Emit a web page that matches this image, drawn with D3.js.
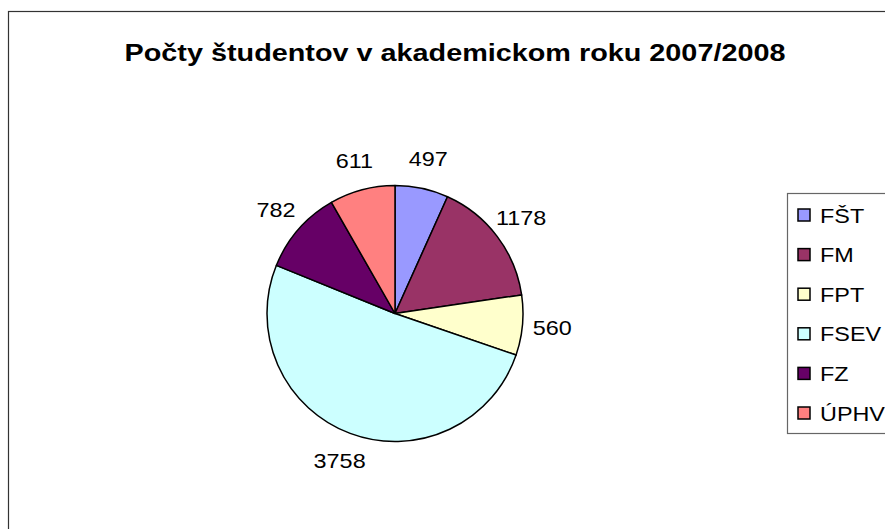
<!DOCTYPE html>
<html>
<head>
<meta charset="utf-8">
<script src="https://cdn.jsdelivr.net/npm/d3@7"></script>
<style>
  body { margin: 0; background: #fff; }
  text { font-family: "Liberation Sans", Arial, sans-serif; fill: #000; }
</style>
</head>
<body>
<div id="chart"></div>
<script>
// Chart data
const faculties = ["FŠT", "FM", "FPT", "FSEV", "FZ", "ÚPHV"];
const students = [497, 1178, 560, 3758, 782, 611];
const colors = ["#9999FF", "#993366", "#FFFFCC", "#CCFFFF", "#660066", "#FF8080"];
const title = "Počty študentov v akademickom roku 2007/2008";

const width = 885;
const height = 529;

const svg = d3.select("#chart")
    .append("svg")
    .attr("width", width)
    .attr("height", height);

// outer chart frame (runs off the right and bottom edge)
svg.append("rect")
    .attr("x", 8.5)
    .attr("y", 11.5)
    .attr("width", 1000)
    .attr("height", 1000)
    .attr("fill", "#fff")
    .attr("stroke", "#333")
    .attr("stroke-width", 1.2);

// the text in the original is a bit wider than normal, so stretch it
const stretch = 1.17;

svg.append("text")
    .attr("transform", `translate(455,61) scale(1.2,1)`)
    .attr("text-anchor", "middle")
    .style("font-size", "24px")
    .style("font-weight", "bold")
    .text(title);

// pie
const cx = 395, cy = 313.5, radius = 128;

const pie = d3.pie().sort(null).value(d => d.value);
const arcs = pie(faculties.map((f, i) => ({ name: f, value: students[i], color: colors[i] })));

const arc = d3.arc().innerRadius(0).outerRadius(radius);
const labelArc = d3.arc().innerRadius(158).outerRadius(158);

const pieG = svg.append("g").attr("transform", `translate(${cx},${cy})`);

pieG.selectAll("path")
    .data(arcs)
    .enter()
    .append("path")
    .attr("d", arc)
    .attr("fill", d => d.data.color)
    .attr("stroke", "#000")
    .attr("stroke-width", 1.5)
    .attr("stroke-linejoin", "round");

pieG.selectAll("text")
    .data(arcs)
    .enter()
    .append("text")
    .attr("transform", d => {
        const [x, y] = labelArc.centroid(d);
        return `translate(${x},${y + 7}) scale(${stretch},1)`;
    })
    .attr("text-anchor", "middle")
    .style("font-size", "20px")
    .text(d => d.data.value);

// legend
const legendX = 787.5, legendY = 193.5, step = 39.6;

svg.append("rect")
    .attr("x", legendX)
    .attr("y", legendY)
    .attr("width", 200)
    .attr("height", 240)
    .attr("fill", "#fff")
    .attr("stroke", "#666")
    .attr("stroke-width", 1.2);

const legendItems = svg.append("g")
    .selectAll("g")
    .data(arcs)
    .enter()
    .append("g")
    .attr("transform", (d, i) => `translate(${legendX}, ${legendY + 21.5 + i * step})`);

legendItems.append("rect")
    .attr("x", 10.5)
    .attr("y", -6)
    .attr("width", 12)
    .attr("height", 12)
    .attr("fill", d => d.data.color)
    .attr("stroke", "#000")
    .attr("stroke-width", 1.5);

legendItems.append("text")
    .attr("transform", `translate(32.5,7.5) scale(${stretch},1)`)
    .style("font-size", "20px")
    .text(d => d.data.name);
</script>
</body>
</html>
